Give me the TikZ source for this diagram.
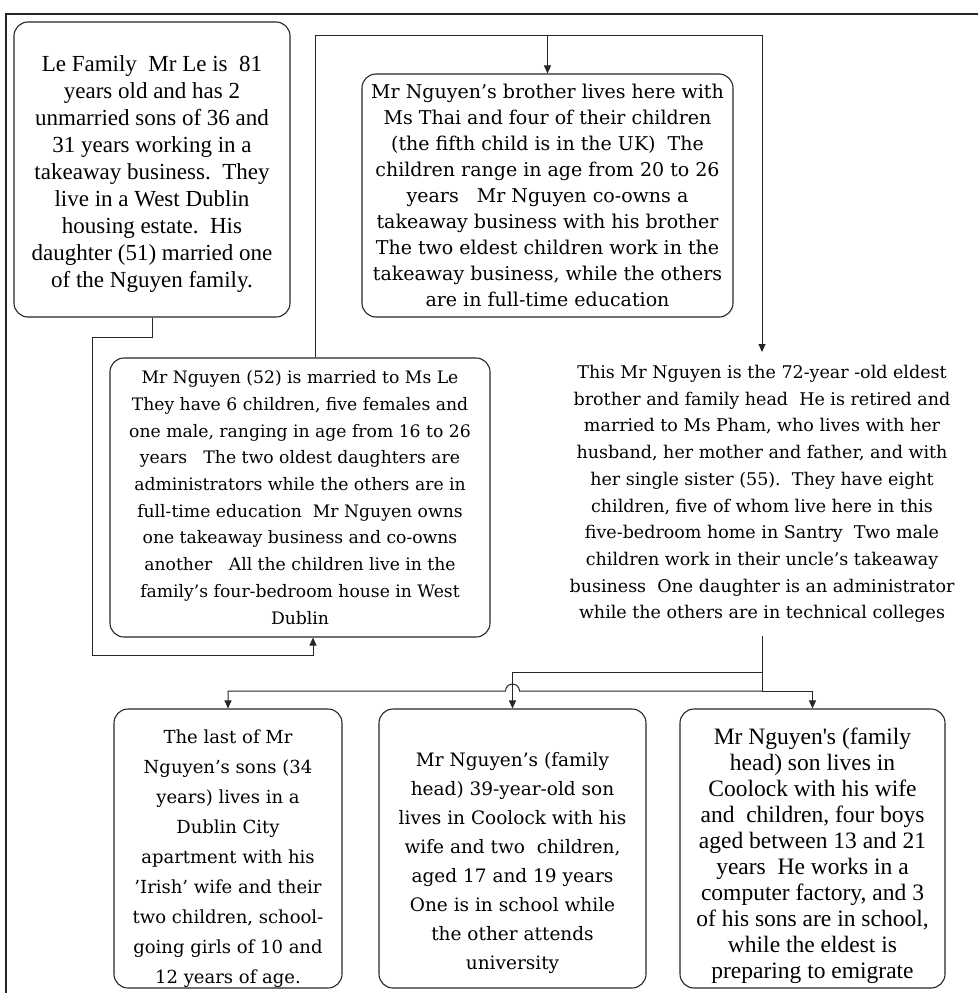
\documentclass[tikz,border=0pt]{standalone}
\usepackage{fontspec}
\setmainfont{DejaVu Serif}
\newfontfamily\narrowfont{Liberation Serif}
\usepackage{tikz}
\usetikzlibrary{calc}
\usetikzlibrary{arrows.meta}
\tikzset{>={Triangle[length=8pt,width=7pt]}}
\tikzset{famblock/.style = {shape=rectangle, draw=black!85, rounded corners=14pt,
align=center, inner sep=0pt, line width=1.1pt}}
\tikzset{famtext/.style = {align=center, inner xsep=3pt, inner ysep=13pt}}
\tikzset{link/.style = {draw=black!85, line width=1pt}}
\newcommand{\padtop}[1]{\rule{0pt}{#1}}

\begin{document}
\begin{tikzpicture}[x=1pt, y=-1pt]
                \useasboundingbox (0,0) rectangle (978,993);
                \draw[link, line width=1.3pt] (978,14) -- (6,14) -- (6,993);

                \node[famblock, minimum width=276, minimum height=295,
                      font=\narrowfont\fontsize{23}{27}\selectfont] (lefam) at (152,169.5)
                      {\padtop{24pt}Le Family\ \ Mr Le is\ \ 81\\ years old and has 2\\ unmarried sons of 36 and\\
                       31 years working in a\\ takeaway business.\ \ They\\ live in a West Dublin\\
                       housing estate.\ \ His\\ daughter (51) married one\\ of the Nguyen family.};
                \node[famblock, minimum width=371, minimum height=243,
                      font=\fontsize{19}{26}\selectfont] (brother) at (547.5,195.5)
                      {Mr Nguyen's brother lives here with\\ Ms Thai and four of their children\\
                       (the fifth child is in the UK)\ \ The\\ children range in age from 20 to 26\\
                       years\ \ \ Mr Nguyen co-owns a\\ takeaway business with his brother\\
                       The two eldest children work in the\\ takeaway business, while the others\\
                       are in full-time education};
                \node[famblock, minimum width=380, minimum height=279,
                      font=\fontsize{17.2}{26.7}\selectfont] (nguyen) at (300,497.5)
                      {Mr Nguyen (52) is married to Ms Le\\ They have 6 children, five females and\\
                       one male, ranging in age from 16 to 26\\ years\ \ \ The two oldest daughters are\\
                       administrators while the others are in\\ full-time education\ \ Mr Nguyen owns\\
                       one takeaway business and co-owns\\ another\ \ \ All the children live in the\\
                       family's four-bedroom house in West\\ Dublin};
                \node[famtext, anchor=north, font=\fontsize{17.5}{26.7}\selectfont] (head) at (762,352)
                      {This Mr Nguyen is the 72-year -old eldest\\ brother and family head\ \ He is retired and\\
                       married to Ms Pham, who lives with her\\ husband, her mother and father, and with\\
                       her single sister (55).\ \ They have eight\\ children, five of whom live here in this\\
                       five-bedroom home in Santry\ \ Two male\\ children work in their uncle's takeaway\\
                       business\ \ One daughter is an administrator\\ while the others are in technical colleges};
                \node[famblock, minimum width=228, minimum height=279,
                      font=\fontsize{18}{30}\selectfont] (lastson) at (228,848.5)
                      {\padtop{34pt}The last of Mr\\ Nguyen's sons (34\\ years) lives in a\\ Dublin City\\
                       apartment with his\\ 'Irish' wife and their\\ two children, school-\\
                       going girls of 10 and\\ 12 years of age.};
                \node[famblock, minimum width=267, minimum height=279,
                      font=\fontsize{18.5}{29}\selectfont] (midson) at (512.5,848.5)
                      {\padtop{44pt}Mr Nguyen's (family\\ head) 39-year-old son\\ lives in Coolock with his\\
                       wife and two\ \ children,\\ aged 17 and 19 years\\ One is in school while\\
                       the other attends\\ university};
                \node[famblock, minimum width=265, minimum height=279,
                      font=\narrowfont\fontsize{23.5}{26}\selectfont] (eldson) at (812.5,848.5)
                      {\padtop{32pt}Mr Nguyen's (family\\ head) son lives in\\ Coolock with his wife\\
                       and\ \ children, four boys\\ aged between 13 and 21\\ years\ \ He works in a\\
                       computer factory, and 3\\ of his sons are in school,\\ while the eldest is\\
                       preparing to emigrate};

                \coordinate (tl) at (315,35);
                \coordinate (tr) at (762,35);
                \coordinate (a1) at (92,337);
                \coordinate (a2) at (92,655);
                \coordinate (d1) at (762,672);
                \coordinate (d2) at (762,691);

                \draw[link] (nguyen.north -| tl) -- (tl) -- (tr);
                \draw[link, ->] (tr) -- (head.north);
                \draw[link, ->] (brother.north |- tl) -- (brother.north);
                \draw[link, ->] (lefam.south) |- (a1) -- (a2) -| ([xshift=13]nguyen.south);
                \draw[link] (head.south -| d1) -- (d2);
                \draw[link, ->] (d1) -| (midson.north);
                \draw[link, ->] (d2) -- ($(midson.north |- d2)+(7,0)$)
                      arc[start angle=0, end angle=-180, radius=7] -| (lastson.north);
                \draw[link, ->] (d2) -| (eldson.north);
            \end{tikzpicture}
\end{document}
